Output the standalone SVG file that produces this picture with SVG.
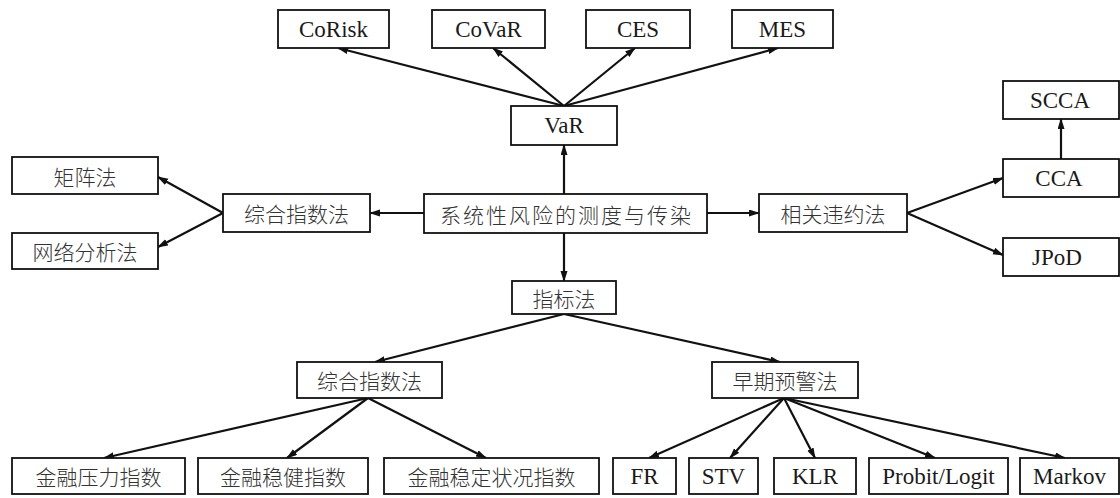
<svg xmlns="http://www.w3.org/2000/svg" width="1120" height="498" viewBox="0 0 1120 498">
<style>
.box{fill:#fff;stroke:#111;stroke-width:1.8}
.lat{font-family:"Liberation Serif","Times New Roman","DejaVu Serif",serif;font-size:23px;fill:#1a1a1a;text-anchor:middle;dominant-baseline:central}
.cjk{font-family:"Noto Sans CJK SC","Noto Sans",sans-serif;font-size:21px;font-weight:300;fill:#333;text-anchor:middle;dominant-baseline:central}
.con line{stroke:#111;stroke-width:2.2;marker-end:url(#ah)}
</style>
<defs>
<marker id="ah" markerUnits="userSpaceOnUse" markerWidth="11" markerHeight="8" refX="10" refY="3.5" orient="auto">
<path d="M0,0 L11,3.5 L0,7 z" fill="#111"/>
</marker>
</defs>
<rect width="1120" height="498" fill="#fff"/>
<g class="con" id="connectors">
<line x1="564" y1="106" x2="338" y2="48"/>
<line x1="564" y1="106" x2="493" y2="48"/>
<line x1="564" y1="106" x2="635" y2="48"/>
<line x1="564" y1="106" x2="778" y2="48"/>
<line x1="564" y1="194" x2="564" y2="145"/>
<line x1="564" y1="233" x2="564" y2="281"/>
<line x1="424" y1="213" x2="370" y2="213"/>
<line x1="223" y1="213" x2="158" y2="177"/>
<line x1="223" y1="213" x2="158" y2="247"/>
<line x1="707" y1="213" x2="759" y2="213"/>
<line x1="907" y1="213" x2="1003" y2="178"/>
<line x1="907" y1="213" x2="1003" y2="255"/>
<line x1="1061" y1="159" x2="1061" y2="119"/>
<line x1="564" y1="314" x2="375" y2="362"/>
<line x1="564" y1="314" x2="780" y2="362"/>
<line x1="368" y1="398" x2="104" y2="458"/>
<line x1="368" y1="398" x2="287" y2="458"/>
<line x1="368" y1="398" x2="486" y2="458"/>
<line x1="784" y1="398" x2="649" y2="458"/>
<line x1="784" y1="398" x2="730" y2="458"/>
<line x1="784" y1="398" x2="815" y2="458"/>
<line x1="784" y1="398" x2="935" y2="458"/>
<line x1="784" y1="398" x2="1065" y2="458"/>
</g>
<g id="corisk"><rect class="box" x="278" y="10" width="111" height="38"/><text class="lat" x="333.5" y="29">CoRisk</text></g>
<g id="covar"><rect class="box" x="432" y="10" width="113" height="38"/><text class="lat" x="488.5" y="29">CoVaR</text></g>
<g id="ces"><rect class="box" x="586" y="10" width="104" height="38"/><text class="lat" x="638" y="29">CES</text></g>
<g id="mes"><rect class="box" x="732" y="10" width="101" height="38"/><text class="lat" x="782.5" y="29">MES</text></g>
<g id="var"><rect class="box" x="511" y="106" width="106" height="39"/><text class="lat" x="564" y="125.5">VaR</text></g>
<g id="scca"><rect class="box" x="1003" y="81" width="116" height="38"/><text class="lat" x="1060" y="100">SCCA</text></g>
<g id="cca"><rect class="box" x="1003" y="159" width="116" height="38"/><text class="lat" x="1059" y="178">CCA</text></g>
<g id="jpod"><rect class="box" x="1003" y="238" width="116" height="38"/><text class="lat" x="1057" y="257">JPoD</text></g>
<g id="juzhen"><rect class="box" x="12" y="157" width="146" height="37"/><text class="cjk" x="85" y="175.5">矩阵法</text></g>
<g id="wangluo"><rect class="box" x="12" y="233" width="146" height="36"/><text class="cjk" x="85" y="251">网络分析法</text></g>
<g id="zonghe-left"><rect class="box" x="223" y="194" width="147" height="38"/><text class="cjk" x="296.5" y="213">综合指数法</text></g>
<g id="center"><rect class="box" x="424" y="194" width="283" height="39"/><text class="cjk" x="566.5" y="213.5" letter-spacing="2">系统性风险的测度与传染</text></g>
<g id="xiangguan"><rect class="box" x="759" y="194" width="148" height="38"/><text class="cjk" x="833" y="213">相关违约法</text></g>
<g id="zhibiao"><rect class="box" x="512" y="281" width="104" height="33"/><text class="cjk" x="564" y="297.5">指标法</text></g>
<g id="zonghe-low"><rect class="box" x="297" y="362" width="145" height="36"/><text class="cjk" x="369.5" y="380">综合指数法</text></g>
<g id="zaoqi"><rect class="box" x="712" y="362" width="146" height="36"/><text class="cjk" x="785" y="380">早期预警法</text></g>
<g id="yali"><rect class="box" x="12" y="458" width="173" height="36"/><text class="cjk" x="98.5" y="476">金融压力指数</text></g>
<g id="wenjian"><rect class="box" x="198" y="458" width="170" height="36"/><text class="cjk" x="283" y="476">金融稳健指数</text></g>
<g id="wending"><rect class="box" x="384" y="458" width="215" height="36"/><text class="cjk" x="491.5" y="476">金融稳定状况指数</text></g>
<g id="fr"><rect class="box" x="613" y="458" width="63" height="36"/><text class="lat" x="644.5" y="476">FR</text></g>
<g id="stv"><rect class="box" x="689" y="458" width="69" height="36"/><text class="lat" x="723.5" y="476">STV</text></g>
<g id="klr"><rect class="box" x="774" y="458" width="82" height="36"/><text class="lat" x="815" y="476">KLR</text></g>
<g id="probit"><rect class="box" x="869" y="458" width="139" height="36"/><text class="lat" x="938.5" y="476">Probit/Logit</text></g>
<g id="markov"><rect class="box" x="1020" y="458" width="99" height="36"/><text class="lat" x="1069.5" y="476">Markov</text></g>
</svg>
